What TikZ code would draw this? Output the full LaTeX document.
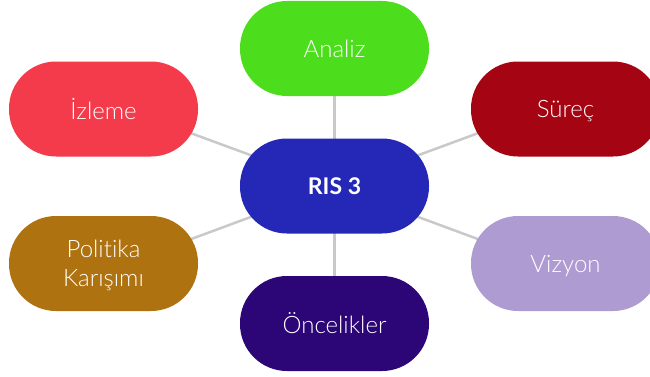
\documentclass[tikz,border=0pt]{standalone}
\usepackage{fontspec}
\setmainfont{Lato}[Ligatures=NoCommon, UprightFont=* Light, BoldFont=* Bold]
\definecolor{cAnaliz}{HTML}{4CDE1C}
\definecolor{cIzleme}{HTML}{F43B4B}
\definecolor{cSurec}{HTML}{A50512}
\definecolor{cRis}{HTML}{2528B6}
\definecolor{cPolitika}{HTML}{AE7210}
\definecolor{cVizyon}{HTML}{AE9BD2}
\definecolor{cOncelik}{HTML}{2C0677}
\definecolor{cLine}{HTML}{C9C9C9}
\begin{document}
\begin{tikzpicture}[x=1pt,y=1pt,
  pill/.style={rectangle, rounded corners=47pt, minimum width=189pt, minimum height=95pt,
    inner sep=0pt, text=white, align=center, font=\fontsize{24}{29.5}\selectfont,
    text depth=0pt},
  link/.style={draw=cLine, line width=2.5pt}]
\useasboundingbox (0,0) rectangle (650,376);
\clip (0,0) rectangle (650,376);
\coordinate (risC) at (334.5,190);
\coordinate (anaC) at (334.5,327.5);
\coordinate (oncC) at (334.5,52.5);
\coordinate (izlE) at (103.5,275);
\coordinate (surE) at (565.5,275);
\coordinate (polE) at (103.5,104.5);
\coordinate (vizE) at (565.5,104.5);
\path[link] (anaC) -- (risC) -- (oncC);
\path[link] (risC) -- (izlE);
\path[link] (risC) -- (surE);
\path[link] (risC) -- (polE);
\path[link] (risC) -- (vizE);
\node[pill, fill=cRis, font=\fontsize{23}{29}\selectfont\bfseries] (ris) at (risC) {RIS 3};
\node[pill, fill=cAnaliz] (ana) at (anaC) {Analiz};
\node[pill, fill=cIzleme] (izl) at (103.5,267) {İzleme};
\node[pill, fill=cSurec] (sur) at (565.5,267) {Süreç};
\node[pill, fill=cPolitika] (pol) at (103.5,112.5) {Politika\\Karışımı};
\node[pill, fill=cVizyon] (viz) at (565.5,112.5) {Vizyon};
\node[pill, fill=cOncelik] (onc) at (oncC) {Öncelikler};
\end{tikzpicture}
\end{document}
